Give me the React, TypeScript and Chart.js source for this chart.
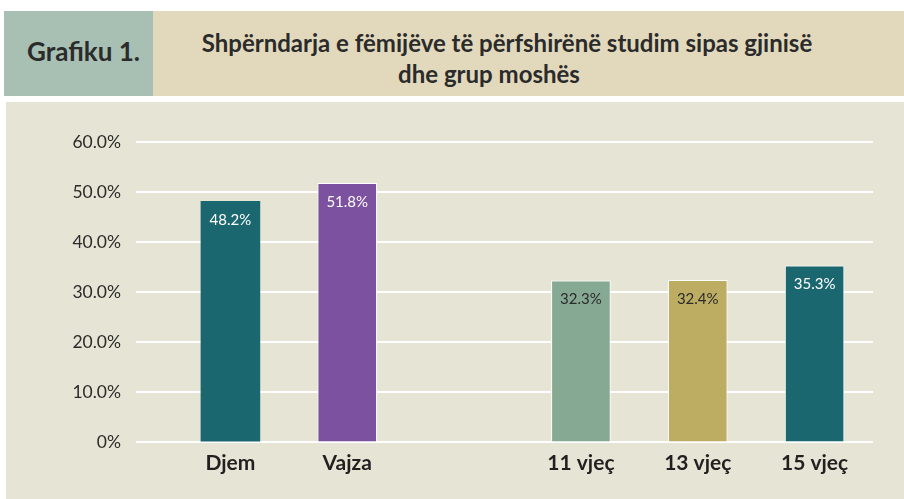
import React, { useEffect, useRef } from "react";
import { Chart, registerables } from "chart.js";

Chart.register(...registerables);

const categories = ["Djem", "Vajza", "", "11 vjeç", "13 vjeç", "15 vjeç"];
const values: (number | null)[] = [48.2, 51.8, null, 32.3, 32.4, 35.3];
const valueLabels = ["48.2%", "51.8%", "", "32.3%", "32.4%", "35.3%"];
const barColors = ["#1b6770", "#7b51a0", "rgba(0,0,0,0)", "#86a994", "#bcad62", "#1b6770"];
const borderWidths = [0, 1, 0, 1, 1, 1];
const labelColors = ["#ffffff", "#ffffff", "#ffffff", "#2b2b2b", "#2b2b2b", "#ffffff"];
const yTicks = [0, 10, 20, 30, 40, 50, 60];

const FONT = "Lato, 'Open Sans', sans-serif";

const gridPlugin = {
  id: "extGrid",
  beforeDatasetsDraw(chart: any) {
    const { ctx, chartArea, scales } = chart;
    const y = scales.y;
    ctx.save();
    ctx.strokeStyle = "#ffffff";
    ctx.lineWidth = 2;
    yTicks.forEach((t) => {
      const py = Math.round(y.getPixelForValue(t));
      ctx.beginPath();
      ctx.moveTo(chartArea.left - 36, py);
      ctx.lineTo(chartArea.right, py);
      ctx.stroke();
    });
    ctx.restore();
  },
};

const labelPlugin = {
  id: "barLabels",
  afterDatasetsDraw(chart: any) {
    const { ctx } = chart;
    const meta = chart.getDatasetMeta(0);
    ctx.save();
    ctx.font = `15px ${FONT}`;
    ctx.textAlign = "center";
    ctx.textBaseline = "middle";
    meta.data.forEach((el: any, i: number) => {
      if (values[i] == null) return;
      ctx.fillStyle = labelColors[i];
      ctx.fillText(valueLabels[i], el.x, el.y + 19);
    });
    ctx.restore();
  },
};

function BarChart() {
  const ref = useRef<HTMLCanvasElement>(null);
  useEffect(() => {
    if (!ref.current) return;
    const chart = new Chart(ref.current, {
      type: "bar",
      data: {
        labels: categories,
        datasets: [
          {
            data: values,
            backgroundColor: barColors,
            borderColor: "#ffffff",
            borderWidth: borderWidths,
            barPercentage: 0.51,
            categoryPercentage: 1,
          },
        ],
      },
      options: {
        responsive: false,
        animation: false,
        layout: { padding: { top: 40, right: 31, left: 0, bottom: 0 } },
        plugins: { legend: { display: false }, tooltip: { enabled: false } },
        scales: {
          x: {
            grid: { display: false },
            border: { display: false },
            ticks: {
              color: "#231f20",
              font: { family: FONT, size: 21, weight: "bold" },
              padding: 1,
            },
            afterFit: (s: any) => {
              s.height = 57;
            },
          },
          y: {
            min: 0,
            max: 60,
            grid: {
              display: true,
              drawOnChartArea: false,
              drawTicks: true,
              tickLength: 51,
              color: "rgba(0,0,0,0)",
            },
            border: { display: false },
            ticks: {
              stepSize: 10,
              color: "#2b2b2b",
              font: { family: FONT, size: 17.5 },
              padding: 0,
              callback: (v: any) => (v === 0 ? "0%" : Number(v).toFixed(1) + "%"),
            },
            afterFit: (s: any) => {
              s.width = 166;
            },
          },
        },
      },
      plugins: [gridPlugin, labelPlugin],
    });
    return () => chart.destroy();
  }, []);
  return <canvas ref={ref} width={898} height={397} style={{ display: "block" }} />;
}

export default function App() {
  return (
    <div style={{ position: "fixed", left: 0, top: 0, width: 904, height: 499, background: "#ffffff", fontFamily: FONT }}>
      <div
        style={{
          position: "absolute",
          left: 4,
          top: 11,
          width: 149,
          height: 85,
          background: "#a8c0b3",
        }}
      >
        <div
          style={{
            position: "absolute",
            left: 10,
            width: 139,
            top: 24,
            textAlign: "center",
            fontWeight: "bold",
            fontSize: 26,
            color: "#2b2b2b",
            whiteSpace: "nowrap",
          }}
        >
          Grafiku 1.
        </div>
      </div>
      <div
        style={{
          position: "absolute",
          left: 153,
          top: 11,
          width: 751,
          height: 85,
          background: "#e2d9bc",
        }}
      >
        <div
          style={{
            position: "absolute",
            left: 0,
            width: 708,
            top: 16,
            textAlign: "center",
            fontWeight: "bold",
            fontSize: 24,
            lineHeight: "31px",
            color: "#2b2b2b",
            whiteSpace: "nowrap",
          }}
        >
          Shpërndarja e fëmijëve të përfshirënë studim sipas gjinisë
        </div>
        <div
          style={{
            position: "absolute",
            left: 0,
            width: 672,
            top: 47,
            textAlign: "center",
            fontWeight: "bold",
            fontSize: 24,
            lineHeight: "31px",
            color: "#2b2b2b",
            whiteSpace: "nowrap",
          }}
        >
          dhe grup moshës
        </div>
      </div>
      <div
        style={{
          position: "absolute",
          left: 6,
          top: 102,
          width: 898,
          height: 397,
          background: "#e6e4d5",
        }}
      >
        <BarChart />
      </div>
    </div>
  );
}
